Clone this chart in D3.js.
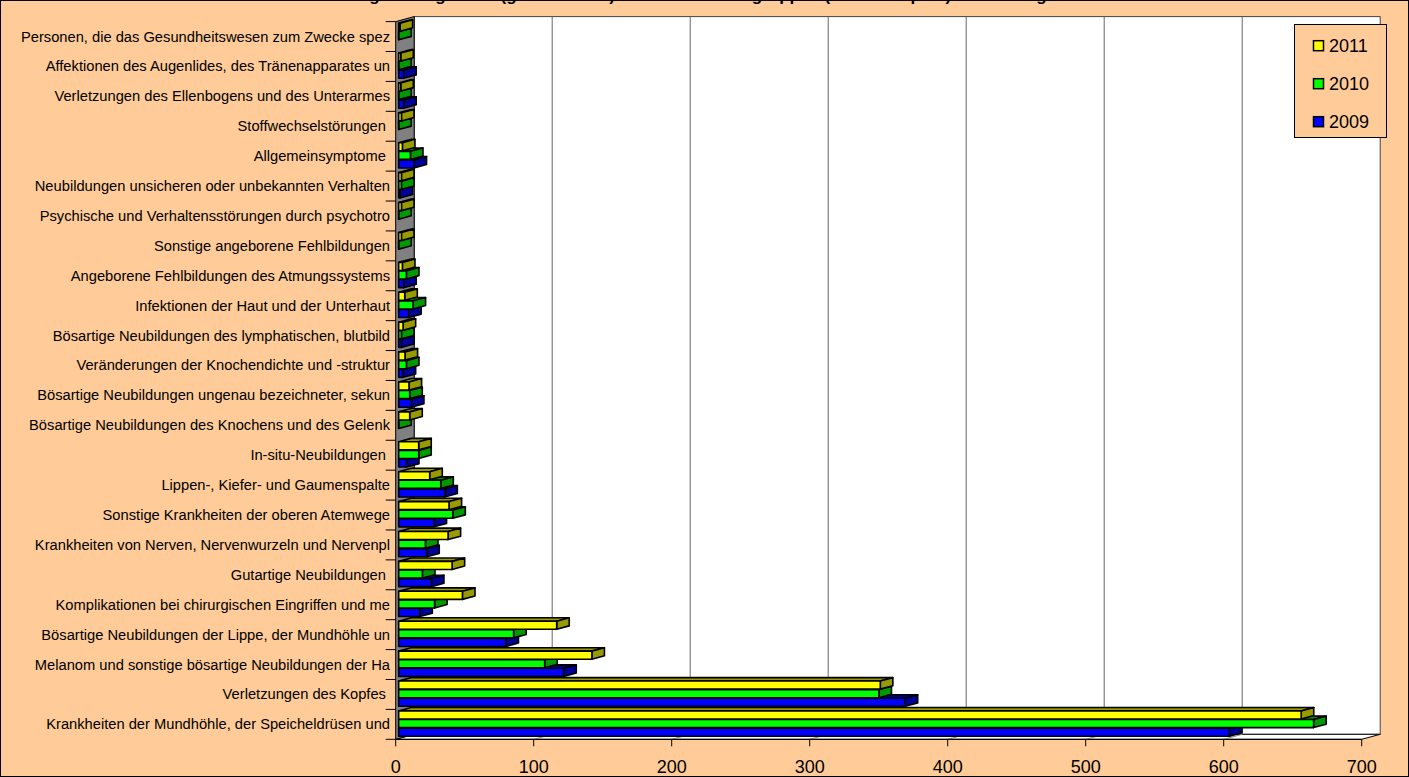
<!DOCTYPE html>
<html><head><meta charset="utf-8">
<script src="https://cdn.jsdelivr.net/npm/d3@7"></script>
<style>
body{margin:0;overflow:hidden;background:#FFCC99}
text{font-family:"Liberation Sans",Arial,sans-serif}
</style>
</head><body><script>
const categories = [
 "Personen, die das Gesundheitswesen zum Zwecke spez",
 "Affektionen des Augenlides, des Tränenapparates un",
 "Verletzungen des Ellenbogens und des Unterarmes",
 "Stoffwechselstörungen ",
 "Allgemeinsymptome ",
 "Neubildungen unsicheren oder unbekannten Verhalten",
 "Psychische und Verhaltensstörungen durch psychotro",
 "Sonstige angeborene Fehlbildungen",
 "Angeborene Fehlbildungen des Atmungssystems",
 "Infektionen der Haut und der Unterhaut",
 "Bösartige Neubildungen des lymphatischen, blutbild",
 "Veränderungen der Knochendichte und -struktur",
 "Bösartige Neubildungen ungenau bezeichneter, sekun",
 "Bösartige Neubildungen des Knochens und des Gelenk",
 "In-situ-Neubildungen ",
 "Lippen-, Kiefer- und Gaumenspalte",
 "Sonstige Krankheiten der oberen Atemwege",
 "Krankheiten von Nerven, Nervenwurzeln und Nervenpl",
 "Gutartige Neubildungen ",
 "Komplikationen bei chirurgischen Eingriffen und me",
 "Bösartige Neubildungen der Lippe, der Mundhöhle un",
 "Melanom und sonstige bösartige Neubildungen der Ha",
 "Verletzungen des Kopfes ",
 "Krankheiten der Mundhöhle, der Speicheldrüsen und"
];
const values2011 = [1, 1.5, 1.5, 2, 2.7, 2, 2, 2, 2.7, 4.4, 3.2, 4.6, 7.5, 8, 14.5, 22.5, 36.5, 35.8, 38.7, 46.2, 114.5, 140, 349, 654];
const values2010 = [0, 0, 0, 0, 8.5, 2, 0, 0, 5.6, 10.4, 2, 5.6, 8, 0, 14.5, 30.5, 39.2, 19.4, 17.2, 26, 83.3, 105.8, 348, 663];
const values2009 = [null, 3.6, 3.6, null, 11.1, 1, null, null, 3.6, 7.2, 2, 3.2, 9.2, null, 5.6, 33.4, 25.6, 20.3, 23.7, 15.3, 77.7, 119.6, 367, 602];
const seriesNames = ["2011", "2010", "2009"];
const xTicks = [0, 100, 200, 300, 400, 500, 600, 700];
const titleText = "Häufigste Diagnosen (gesamt Fälle) nach Krankheitsgruppen (ICD-10 Kapitel) im Zeitvergleich";

const seriesValues = {"2011": values2011, "2010": values2010, "2009": values2009};
const faceColors = {"2011": ["#FFFF00", "#999900"], "2010": ["#00FF00", "#009900"], "2009": ["#0000FF", "#000099"]};

const W = 1409, H = 777;
const DX = 18.5, DY = 5;
const yTop = 21.6, yBot = 739.3;
const x = d3.scaleLinear().domain([0, 700]).range([395.7, 1361.7]);
const y = d3.scaleBand().domain(categories).range([yTop, yBot]);
const ys = d3.scaleBand().domain(seriesNames).range([0, y.bandwidth()]).paddingInner(0.06).paddingOuter(0.27);

const svg = d3.select("body").append("svg").attr("width", W).attr("height", H);
svg.append("rect").attr("x", 0.5).attr("y", 0.5).attr("width", W - 1).attr("height", H - 1)
  .attr("fill", "#FFCC99").attr("stroke", "#000").attr("stroke-width", 1);

// title (mostly cut off at the top, as in the reference)
svg.append("text").attr("x", 706).attr("y", 1).attr("text-anchor", "middle")
  .attr("font-size", 17).attr("font-weight", "bold").text(titleText);

const x0 = x(0), xMax = x(700);
const line = d3.line();

// back wall
svg.append("rect").attr("x", x0 + DX).attr("y", yTop - DY).attr("width", xMax - x0).attr("height", yBot - yTop)
  .attr("fill", "#fff").attr("stroke", "#444").attr("stroke-width", 1);
svg.append("g").selectAll("line").data(xTicks.filter(t => t > 0 && t < 700)).join("line")
  .attr("x1", d => x(d) + DX).attr("x2", d => x(d) + DX)
  .attr("y1", yTop - DY).attr("y2", yBot - DY).attr("stroke", "#666").attr("stroke-width", 1);
// floor
svg.append("path").attr("d", line([[x0, yBot], [xMax, yBot], [xMax + DX, yBot - DY], [x0 + DX, yBot - DY]]) + "Z")
  .attr("fill", "#fff").attr("stroke", "#000").attr("stroke-width", 1);
svg.append("g").selectAll("line").data(xTicks.filter(t => t > 0 && t < 700)).join("line")
  .attr("x1", d => x(d)).attr("x2", d => x(d) + DX)
  .attr("y1", yBot).attr("y2", yBot - DY).attr("stroke", "#888").attr("stroke-width", 1);
// left side wall
svg.append("path").attr("d", line([[x0, yTop], [x0 + DX, yTop - DY], [x0 + DX, yBot - DY], [x0, yBot]]) + "Z")
  .attr("fill", "#808080").attr("stroke", "#000").attr("stroke-width", 1);

// bars
const d0 = 0.16, d1 = 0.84;
const dd = d1 - d0;
const bars = [];
categories.slice().reverse().forEach(c => {
  const idx = categories.indexOf(c);
  ["2009", "2010", "2011"].forEach(s => {
    const v = seriesValues[s][idx];
    if (v === null) return;
    bars.push({c, s, v});
  });
});
const barG = svg.append("g").attr("stroke", "#000").attr("stroke-width", 1.6).attr("stroke-linejoin", "round");
bars.forEach(b => {
  const h = ys.bandwidth();
  const xa = x(0) + d0 * DX, xb = x(b.v) + d0 * DX;
  const ya = y(b.c) + ys(b.s) - d0 * DY;
  const ox = dd * DX, oy = dd * DY;
  const [front, side] = faceColors[b.s];
  const g = barG.append("g");
  g.append("path").attr("d", line([[xa, ya], [xb, ya], [xb + ox, ya - oy], [xa + ox, ya - oy]]) + "Z").attr("fill", side);
  g.append("path").attr("d", line([[xb, ya], [xb + ox, ya - oy], [xb + ox, ya + h - oy], [xb, ya + h]]) + "Z").attr("fill", side);
  g.append("path").attr("d", line([[xa, ya], [xb, ya], [xb, ya + h], [xa, ya + h]]) + "Z").attr("fill", front);
});

// category axis ticks and labels
const bounds = categories.map(c => y(c)).concat([yBot]);
svg.append("g").selectAll("line").data(bounds).join("line")
  .attr("x1", x0 - 10).attr("x2", x0).attr("y1", d => d).attr("y2", d => d)
  .attr("stroke", "#000").attr("stroke-width", 1);
svg.append("g").selectAll("text").data(categories).join("text")
  .attr("x", 390).attr("y", d => y(d) + y.bandwidth() / 2 + 5)
  .attr("text-anchor", "end").attr("font-size", 14.7).style("white-space", "pre")
  .text(d => d);

// value axis
svg.append("line").attr("x1", x0).attr("x2", xMax).attr("y1", yBot).attr("y2", yBot).attr("stroke", "#000");
svg.append("g").selectAll("line").data(xTicks).join("line")
  .attr("x1", d => x(d)).attr("x2", d => x(d)).attr("y1", yBot).attr("y2", yBot + 7)
  .attr("stroke", "#000").attr("stroke-width", 1);
svg.append("g").selectAll("text").data(xTicks).join("text")
  .attr("x", d => x(d)).attr("y", 773).attr("text-anchor", "middle").attr("font-size", 18)
  .text(d => d);

// legend
const lg = svg.append("g");
lg.append("rect").attr("x", 1294.5).attr("y", 24.5).attr("width", 92).attr("height", 113)
  .attr("fill", "#FFCC99").attr("stroke", "#000").attr("stroke-width", 1);
seriesNames.forEach((s, i) => {
  const cy = 45.7 + i * 38;
  lg.append("rect").attr("x", 1313.5).attr("y", cy - 5).attr("width", 10).attr("height", 10)
    .attr("fill", faceColors[s][0]).attr("stroke", "#000").attr("stroke-width", 1.5);
  lg.append("text").attr("x", 1329).attr("y", cy + 6.5).attr("font-size", 18).text(s);
});
</script></body></html>
